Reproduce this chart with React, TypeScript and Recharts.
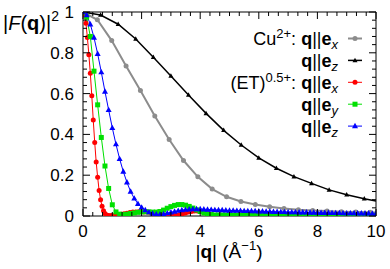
import { Line, LineChart, XAxis, YAxis } from "recharts";

// Cu2+ form factors
const cuQx = [0, 0.49, 0.98, 1.47, 1.96, 2.45, 2.94, 3.43, 3.92, 4.41, 4.9, 5.39, 5.88, 6.37, 6.86, 7.35, 7.84, 8.33, 8.82, 9.31, 9.8, 10];
const cuFx = [1, 0.962, 0.86, 0.735, 0.615, 0.49, 0.375, 0.272, 0.192, 0.132, 0.094, 0.071, 0.056, 0.045, 0.037, 0.031, 0.027, 0.024, 0.021, 0.019, 0.018, 0.017];
const cuQz = [0, 0.6, 1.2, 1.8, 2.4, 3, 3.6, 4.2, 4.8, 5.4, 6, 6.6, 7.2, 7.8, 8.4, 9, 9.6, 10];
const cuFz = [1, 0.985, 0.94, 0.868, 0.778, 0.686, 0.593, 0.503, 0.42, 0.348, 0.285, 0.234, 0.193, 0.16, 0.128, 0.104, 0.085, 0.074];

// (ET)0.5+ form factors
const etQx = [
  0, 0.05, 0.1, 0.15, 0.2, 0.25, 0.3, 0.35, 0.4, 0.45, 0.5, 0.55, 0.6, 0.65, 0.7, 0.75, 0.8, 0.85, 0.9, 0.95, 1,
  1.1, 1.2, 1.3, 1.4, 1.5, 1.6, 1.7, 1.8, 1.9, 2, 2.1, 2.2, 2.3, 2.4, 2.5, 2.6, 2.7, 2.8, 2.9, 3,
  3.1, 3.2, 3.3, 3.4, 3.5, 3.6, 3.7, 3.8, 3.9, 4, 4.1, 4.2, 4.3, 4.4, 4.5, 4.6, 4.7, 4.8, 4.9, 5,
  5.2, 5.4, 5.6, 5.8, 6, 6.2, 6.4, 6.6, 6.8, 7, 7.2, 7.4, 7.6, 7.8, 8, 8.2, 8.4, 8.6, 8.8, 9, 9.2, 9.4, 9.6, 9.8, 10,
];
const etFx = [
  1, 0.985, 0.945, 0.875, 0.79, 0.7, 0.59, 0.47, 0.36, 0.265, 0.19, 0.125, 0.08, 0.048, 0.026, 0.012, 0.005, 0.002, 0.001, 0.001, 0.002,
  0.003, 0.005, 0.008, 0.011, 0.014, 0.017, 0.019, 0.02, 0.021, 0.021, 0.02, 0.019, 0.017, 0.014, 0.011, 0.008, 0.005, 0.003, 0.001, 0.001,
  0.002, 0.004, 0.007, 0.011, 0.015, 0.019, 0.022, 0.024, 0.024, 0.022, 0.019, 0.015, 0.01, 0.006, 0.003, 0.001, 0.001, 0.002, 0.003, 0.004,
  0.005, 0.005, 0.004, 0.003, 0.002, 0.002, 0.002, 0.002, 0.003, 0.003, 0.003, 0.002, 0.002, 0.002, 0.002, 0.002, 0.002, 0.002, 0.002, 0.002, 0.002, 0.002, 0.002, 0.002, 0.002,
];
const etQ = [
  0, 0.125, 0.25, 0.375, 0.5, 0.625, 0.75, 0.875,
  1, 1.125, 1.25, 1.375, 1.5, 1.625, 1.75, 1.875,
  2, 2.125, 2.25, 2.375, 2.5, 2.625, 2.75, 2.875,
  3, 3.125, 3.25, 3.375, 3.5, 3.625, 3.75, 3.875,
  4, 4.125, 4.25, 4.375, 4.5, 4.625, 4.75, 4.875,
  5, 5.125, 5.25, 5.375, 5.5, 5.625, 5.75, 5.875,
  6, 6.125, 6.25, 6.375, 6.5, 6.625, 6.75, 6.875,
  7, 7.125, 7.25, 7.375, 7.5, 7.625, 7.75, 7.875,
  8, 8.125, 8.25, 8.375, 8.5, 8.625, 8.75, 8.875,
  9, 9.125, 9.25, 9.375, 9.5, 9.625, 9.75, 9.875,
  10,
];
const etFy = [
  1, 0.975, 0.88, 0.71, 0.545, 0.385, 0.245, 0.135,
  0.055, 0.02, 0.009, 0.007, 0.009, 0.012, 0.015, 0.018,
  0.02, 0.021, 0.02, 0.019, 0.019, 0.022, 0.029, 0.038,
  0.046, 0.052, 0.056, 0.056, 0.053, 0.047, 0.039, 0.03,
  0.022, 0.015, 0.01, 0.007, 0.005, 0.005, 0.005, 0.005,
  0.005, 0.004, 0.004, 0.004, 0.004, 0.004, 0.004, 0.004,
  0.004, 0.004, 0.004, 0.004, 0.003, 0.003, 0.003, 0.003,
  0.003, 0.003, 0.003, 0.003, 0.003, 0.003, 0.003, 0.003,
  0.003, 0.003, 0.003, 0.003, 0.003, 0.003, 0.003, 0.003,
  0.003, 0.003, 0.003, 0.003, 0.003, 0.003, 0.003, 0.003,
  0.003,
];
const etFz = [
  1, 0.985, 0.94, 0.875, 0.795, 0.705, 0.61, 0.52,
  0.432, 0.352, 0.28, 0.218, 0.165, 0.12, 0.086, 0.06,
  0.042, 0.029, 0.019, 0.012, 0.009, 0.008, 0.01, 0.014,
  0.018, 0.022, 0.026, 0.029, 0.031, 0.033, 0.034, 0.034,
  0.034, 0.033, 0.032, 0.031, 0.03, 0.029, 0.029, 0.028,
  0.027, 0.027, 0.026, 0.026, 0.025, 0.025, 0.024, 0.024,
  0.023, 0.023, 0.022, 0.022, 0.021, 0.021, 0.02, 0.02,
  0.019, 0.019, 0.019, 0.018, 0.018, 0.018, 0.017, 0.017,
  0.017, 0.016, 0.016, 0.016, 0.015, 0.015, 0.015, 0.014,
  0.014, 0.014, 0.014, 0.013, 0.013, 0.013, 0.013, 0.012,
  0.012,
];

const xMajor = [0, 2, 4, 6, 8, 10];
const yMajor = [0, 0.2, 0.4, 0.6, 0.8, 1];
const xMinorPerMajor = 6;
const yMinorPerMajor = 5;

const font = "'Liberation Sans', Arial, sans-serif";
const GRAY = "#8c8c8c";
const RED = "#ff0000";
const GREEN = "#00e000";
const BLUE = "#0000ff";

const zip = (q: number[], f: number[]) => q.map((v, i) => ({ q: v, f: f[i] }));

const minorTicks = (major: number[], n: number) => {
  const out: number[] = [];
  for (let i = 0; i < major.length - 1; i++) {
    for (let k = 0; k < n; k++) out.push(major[i] + ((major[i + 1] - major[i]) * k) / n);
  }
  out.push(major[major.length - 1]);
  return out;
};
const xTicks = minorTicks(xMajor, xMinorPerMajor);
const yTicks = minorTicks(yMajor, yMinorPerMajor);
const isMajor = (v: number, major: number[]) => major.some((m) => Math.abs(m - v) < 1e-6);

const tickText = { fontSize: 17, fontFamily: font, fill: "#000" };

const TickBottom = (p: any) => {
  const { x, y, payload } = p;
  const major = isMajor(payload.value, xMajor);
  return (
    <g>
      <line x1={x} x2={x} y1={y} y2={y - (major ? 7 : 4)} stroke="#000" />
      {major ? (
        <text x={x} y={y + 21} textAnchor="middle" {...tickText}>
          {String(Math.round(payload.value))}
        </text>
      ) : null}
    </g>
  );
};
const TickTop = (p: any) => {
  const { x, y, payload } = p;
  const major = isMajor(payload.value, xMajor);
  return <line x1={x} x2={x} y1={y} y2={y + (major ? 7 : 4)} stroke="#000" />;
};
const TickLeft = (p: any) => {
  const { x, y, payload } = p;
  const major = isMajor(payload.value, yMajor);
  return (
    <g>
      <line x1={x} x2={x + (major ? 7 : 4)} y1={y} y2={y} stroke="#000" />
      {major ? (
        <text x={x - 9} y={y + 6} textAnchor="end" {...tickText}>
          {String(Math.round(payload.value * 10) / 10)}
        </text>
      ) : null}
    </g>
  );
};
const TickRight = (p: any) => {
  const { x, y, payload } = p;
  const major = isMajor(payload.value, yMajor);
  return <line x1={x} x2={x - (major ? 7 : 4)} y1={y} y2={y} stroke="#000" />;
};

type Shape = "circle" | "square" | "triangle";
const Marker = ({ cx, cy, shape, size, color }: { cx: number; cy: number; shape: Shape; size: number; color: string }) => {
  if (shape === "circle") return <circle cx={cx} cy={cy} r={size / 2} fill={color} />;
  if (shape === "square") return <rect x={cx - size / 2} y={cy - size / 2} width={size} height={size} fill={color} />;
  const h = size * 0.9;
  return (
    <path
      d={`M${cx},${cy - h * 0.6}L${cx + size / 2},${cy + h * 0.4}L${cx - size / 2},${cy + h * 0.4}Z`}
      fill={color}
    />
  );
};

const dotFn = (shape: Shape, size: number, color: string, skipLast = false, len = 0) => (p: any) => {
  if (p.cx == null || p.cy == null || (skipLast && p.index === len - 1)) return <g key={`d${p.index}`} />;
  return (
    <g key={`d${p.index}`}>
      <Marker cx={p.cx} cy={p.cy} shape={shape} size={size} color={color} />
    </g>
  );
};

const legendRows = [
  { color: GRAY, shape: "circle" as Shape, size: 5, width: 2, prefix: "Cu", sup: "2+", sub: "x" },
  { color: "#000", shape: "triangle" as Shape, size: 5, width: 1.5, prefix: "", sup: "", sub: "z" },
  { color: RED, shape: "circle" as Shape, size: 5, width: 1, prefix: "(ET)", sup: "0.5+", sub: "x" },
  { color: GREEN, shape: "square" as Shape, size: 5, width: 1, prefix: "", sup: "", sub: "y" },
  { color: BLUE, shape: "triangle" as Shape, size: 6, width: 1, prefix: "", sup: "", sub: "z" },
];

const Overlay = () => (
  <svg width={390} height={269} style={{ position: "absolute", left: 0, top: 0, pointerEvents: "none" }}>
    <text x={3} y={30} fontSize={20} fontFamily={font} fill="#000">
      |<tspan fontStyle="italic">F</tspan>(<tspan fontWeight="bold">q</tspan>)|
      <tspan dy={-9} fontSize={14}>2</tspan>
    </text>
    <text x={229} y={258} fontSize={19} fontFamily={font} fill="#000" textAnchor="middle">
      |<tspan fontWeight="bold">q</tspan>| (Å<tspan dy={-8} fontSize={13}>−1</tspan>
      <tspan dy={8}>)</tspan>
    </text>
    {legendRows.map((r, i) => {
      const cy = 38.5 + i * 21.9;
      return (
        <g key={i}>
          <text x={338} y={cy + 6.5} fontSize={18} fontFamily={font} fill="#000" textAnchor="end">
            {r.prefix ? r.prefix : null}
            {r.sup ? (
              <tspan dy={-7} fontSize={13}>
                {r.sup}
              </tspan>
            ) : null}
            {r.sup ? <tspan dy={7}>: </tspan> : null}
            <tspan fontWeight="bold">q</tspan>||<tspan fontWeight="bold">e</tspan>
            <tspan dy={4} fontSize={13} fontStyle="italic">
              {r.sub}
            </tspan>
          </text>
          <line x1={348} x2={362} y1={cy} y2={cy} stroke={r.color} strokeWidth={r.width} />
          <Marker cx={355} cy={cy} shape={r.shape} size={r.size} color={r.color} />
        </g>
      );
    })}
  </svg>
);

export default function App() {
  return (
    <div style={{ position: "relative", width: 390, height: 269, fontFamily: font }}>
      <style>{"body{margin:0}"}</style>
      <LineChart width={390} height={269} margin={{ top: 11, right: 13, bottom: 0, left: 0 }}>
        <XAxis
          dataKey="q"
          type="number"
          domain={[0, 10]}
          ticks={xTicks}
          interval={0}
          height={53}
          tickSize={0}
          tickMargin={0}
          tickLine={false}
          axisLine={{ stroke: "#000" }}
          tick={TickBottom}
          allowDataOverflow
        />
        <XAxis
          xAxisId="top"
          orientation="top"
          dataKey="q"
          type="number"
          domain={[0, 10]}
          ticks={xTicks}
          interval={0}
          height={1}
          tickSize={0}
          tickMargin={0}
          tickLine={false}
          axisLine={{ stroke: "#000" }}
          tick={TickTop}
          allowDataOverflow
        />
        <YAxis
          type="number"
          domain={[0, 1]}
          ticks={yTicks}
          interval={0}
          width={83}
          tickSize={0}
          tickMargin={0}
          tickLine={false}
          axisLine={{ stroke: "#000" }}
          tick={TickLeft}
          allowDataOverflow
        />
        <YAxis
          yAxisId="right"
          orientation="right"
          type="number"
          domain={[0, 1]}
          ticks={yTicks}
          interval={0}
          width={1}
          tickSize={0}
          tickMargin={0}
          tickLine={false}
          axisLine={{ stroke: "#000" }}
          tick={TickRight}
          allowDataOverflow
        />
        <Line data={zip(cuQx, cuFx)} dataKey="f" stroke={GRAY} strokeWidth={2} dot={dotFn("circle", 5, GRAY, true, cuQx.length)} activeDot={false} isAnimationActive={false} />
        <Line data={zip(cuQz, cuFz)} dataKey="f" stroke="#000" strokeWidth={1.5} dot={dotFn("triangle", 5, "#000", true, cuQz.length)} activeDot={false} isAnimationActive={false} />
        <Line data={zip(etQx, etFx)} dataKey="f" stroke={RED} strokeWidth={1} dot={dotFn("circle", 5, RED)} activeDot={false} isAnimationActive={false} />
        <Line data={zip(etQ, etFy)} dataKey="f" stroke={GREEN} strokeWidth={1} dot={dotFn("square", 5, GREEN)} activeDot={false} isAnimationActive={false} />
        <Line data={zip(etQ, etFz)} dataKey="f" stroke={BLUE} strokeWidth={1} dot={dotFn("triangle", 6, BLUE)} activeDot={false} isAnimationActive={false} />
      </LineChart>
      <Overlay />
    </div>
  );
}
